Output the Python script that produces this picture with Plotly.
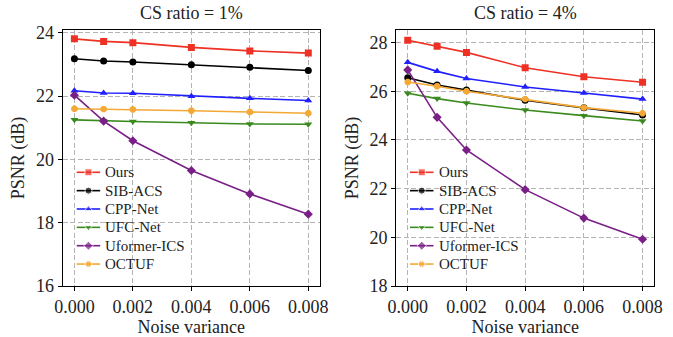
import plotly.graph_objects as go

noise = [0.0, 0.001, 0.002, 0.004, 0.006, 0.008]
methods = ["Ours", "SIB-ACS", "CPP-Net", "UFC-Net", "Uformer-ICS", "OCTUF"]

psnr_1 = {
    "Ours":        [23.81, 23.73, 23.69, 23.54, 23.43, 23.36],
    "SIB-ACS":     [23.18, 23.11, 23.08, 22.99, 22.91, 22.81],
    "CPP-Net":     [22.17, 22.10, 22.09, 22.00, 21.93, 21.86],
    "UFC-Net":     [21.25, 21.22, 21.20, 21.16, 21.12, 21.11],
    "Uformer-ICS": [22.03, 21.21, 20.59, 19.65, 18.91, 18.27],
    "OCTUF":       [21.60, 21.59, 21.58, 21.54, 21.50, 21.46],
}
psnr_4 = {
    "Ours":        [28.10, 27.85, 27.60, 26.97, 26.60, 26.37],
    "SIB-ACS":     [26.56, 26.26, 26.05, 25.63, 25.32, 25.03],
    "CPP-Net":     [27.19, 26.82, 26.53, 26.18, 25.93, 25.68],
    "UFC-Net":     [25.92, 25.70, 25.52, 25.23, 25.00, 24.78],
    "Uformer-ICS": [26.88, 24.93, 23.59, 21.96, 20.79, 19.92],
    "OCTUF":       [26.38, 26.21, 26.00, 25.68, 25.33, 25.10],
}
titles = ["CS ratio = 1%", "CS ratio = 4%"]
x_ticks = [0.0, 0.002, 0.004, 0.006, 0.008]
x_ticklabels = ["0.000", "0.002", "0.004", "0.006", "0.008"]
y_ticks_1 = [16, 18, 20, 22, 24]
y_ticks_4 = [18, 20, 22, 24, 26, 28]

colors = {"Ours": "#ee3124", "SIB-ACS": "#000000", "CPP-Net": "#1f1fff",
          "UFC-Net": "#3a8a1e", "Uformer-ICS": "#7a1f87", "OCTUF": "#f4a836"}
symbols = {"Ours": "square", "SIB-ACS": "circle", "CPP-Net": "triangle-up",
           "UFC-Net": "triangle-down", "Uformer-ICS": "diamond", "OCTUF": "octagon"}

FONT = "Liberation Serif"
TXT = "#222222"
W, H = 673, 337
fig = go.Figure()

# plot-area boxes in pixels: (left, right), (top, bottom)
px_x = [(62.7, 320.0), (396.0, 654.3)]
px_y = (30.0, 286.0)
xd = [[a / W, b / W] for a, b in px_x]
yd = [1 - px_y[1] / H, 1 - px_y[0] / H]

for i, data in enumerate([psnr_1, psnr_4]):
    xa = "x" if i == 0 else "x2"
    ya = "y" if i == 0 else "y2"
    for m in methods:
        fig.add_trace(go.Scatter(
            x=noise, y=data[m], mode="lines+markers", name=m,
            xaxis=xa, yaxis=ya, showlegend=False,
            line=dict(color=colors[m], width=1.6),
            marker=dict(symbol=symbols[m], size=7, color=colors[m]),
        ))

# legend (one per panel), drawn on an invisible pixel-scaled overlay axis
LEG_DX0, LEG_LEN, LEG_TXT = 14.0, 23.5, 26.5
LEG_Y0, LEG_STEP = 172.3, 18.35
annotations = []
for i in range(2):
    x0 = px_x[i][0] + LEG_DX0
    for k, m in enumerate(methods):
        yy = LEG_Y0 + k * LEG_STEP
        fig.add_trace(go.Scatter(
            x=[x0, x0 + LEG_LEN / 2, x0 + LEG_LEN], y=[yy, yy, yy],
            mode="lines+markers", xaxis="x3", yaxis="y3", showlegend=False,
            hoverinfo="skip", line=dict(color=colors[m], width=1.6),
            marker=dict(symbol=symbols[m], size=[0, 7, 0], color=colors[m]),
        ))
        annotations.append(dict(text=m, x=(x0 + LEG_TXT) / W, y=1 - yy / H,
                                xref="paper", yref="paper", showarrow=False,
                                xanchor="left", yanchor="middle",
                                font=dict(family=FONT, size=15, color=TXT)))

for i in range(2):
    annotations.append(dict(text=titles[i], x=(xd[i][0] + xd[i][1]) / 2, y=1 - 13 / H,
                            xref="paper", yref="paper", showarrow=False,
                            xanchor="center", yanchor="middle",
                            font=dict(family=FONT, size=18, color=TXT)))

axis_common = dict(showline=True, linecolor="black", linewidth=1, mirror=True,
                   ticks="outside", ticklen=4, tickcolor="black", automargin=False,
                   showgrid=True, gridcolor="#b4b4b4", griddash="5px,2.5px", gridwidth=1,
                   zeroline=False, tickfont=dict(family=FONT, size=18, color=TXT))
xtitle = dict(text="Noise variance", font=dict(family=FONT, size=18, color=TXT), standoff=4)
ytitle = dict(text="PSNR (dB)", font=dict(family=FONT, size=18, color=TXT), standoff=6)

fig.update_layout(
    width=W, height=H,
    margin=dict(l=0, r=0, t=0, b=0, autoexpand=False),
    paper_bgcolor="white", plot_bgcolor="rgba(0,0,0,0)",
    font=dict(family=FONT, size=18, color=TXT),
    showlegend=False,
    xaxis=dict(domain=xd[0], range=[-0.0004, 0.0084], tickvals=x_ticks, ticktext=x_ticklabels,
               title=xtitle, anchor="y", **axis_common),
    yaxis=dict(domain=yd, range=[16, 24.09], tickvals=y_ticks_1,
               title=ytitle, anchor="x", **axis_common),
    xaxis2=dict(domain=xd[1], range=[-0.0004, 0.0084], tickvals=x_ticks, ticktext=x_ticklabels,
                title=xtitle, anchor="y2", **axis_common),
    yaxis2=dict(domain=yd, range=[18, 28.52], tickvals=y_ticks_4,
                title=ytitle, anchor="x2", **axis_common),
    xaxis3=dict(domain=[0, 1], range=[0, W], visible=False, anchor="y3", fixedrange=True,
                automargin=False),
    yaxis3=dict(domain=[0, 1], range=[H, 0], visible=False, anchor="x3", fixedrange=True,
                automargin=False),
    annotations=annotations,
)

fig.write_html("out.html",
               config={"displayModeBar": False},
               post_script="document.body.style.margin='0';"
                           "document.body.style.overflow='hidden';")
